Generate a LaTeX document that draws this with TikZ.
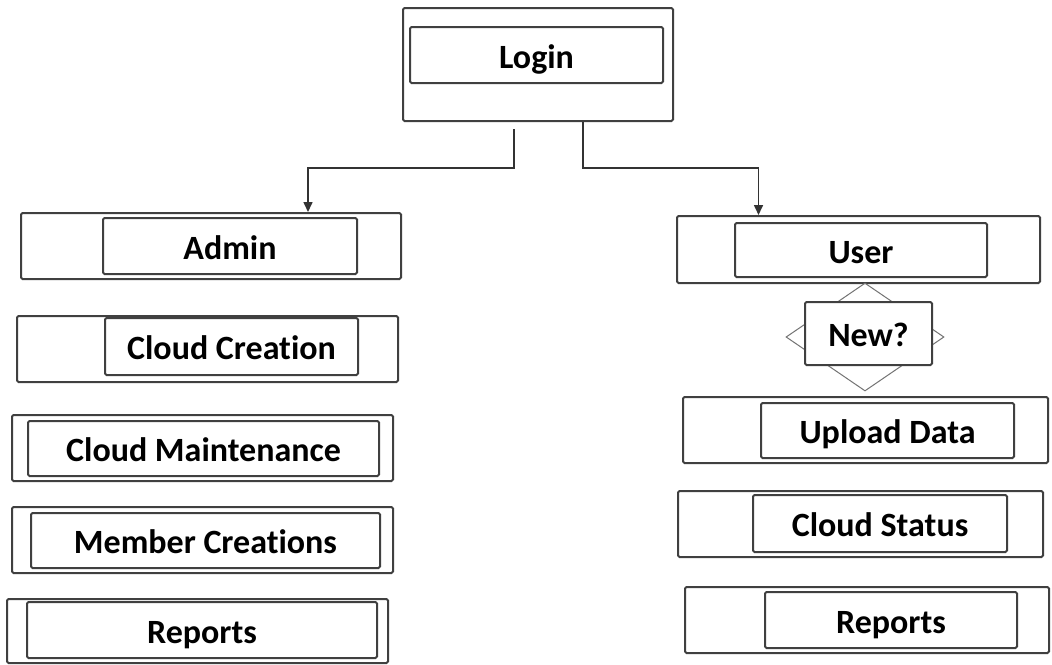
\documentclass[tikz,border=0pt]{standalone}
\usepackage{fontspec}
\setmainfont{Carlito}[Ligatures=NoCommon]
\usetikzlibrary{shapes.geometric,arrows.meta}
\begin{document}
\begin{tikzpicture}[x=1pt,y=-1pt,
  outerbox/.style={draw=black!75,line width=2pt,rounded corners=1.5pt,inner sep=0pt},
  innerbox/.style={draw=black!75,line width=2pt,rounded corners=1.5pt,inner sep=0pt,
    font=\fontsize{34}{40}\selectfont\bfseries,fill=white,text height=26pt,text depth=0pt},
  decision/.style={diamond,draw=black!55,line width=1pt,inner sep=0pt},
  link/.style={draw=black!80,line width=1.6pt,-{Triangle[length=10pt,width=9pt]}}]
\useasboundingbox (0,0) rectangle (1052,664);
\fill[white] (0,0) rectangle (1052,664);
% top
\node [outerbox,minimum width=270pt,minimum height=113pt] (login) at (538,64.5) {};
\node [innerbox,minimum width=253pt,minimum height=56pt] (logintxt) at (536.5,55) {Login};
% admin side
\node [outerbox,minimum width=380pt,minimum height=66pt] (admin) at (211,246) {};
\node [innerbox,minimum width=254pt,minimum height=56pt] (admintxt) at (230,246) {Admin};
\node [outerbox,minimum width=381pt,minimum height=66pt] (ccreate) at (207.5,349) {};
\node [innerbox,minimum width=253pt,minimum height=57pt] (ccreatetxt) at (231.5,346.5) {Cloud Creation};
\node [outerbox,minimum width=381pt,minimum height=66pt] (cmaint) at (202.5,448) {};
\node [innerbox,minimum width=351pt,minimum height=55pt] (cmainttxt) at (203.5,448.5) {Cloud Maintenance};
\node [outerbox,minimum width=381pt,minimum height=66pt] (member) at (202.5,540) {};
\node [innerbox,minimum width=349pt,minimum height=55pt] (membertxt) at (205.5,540.5) {Member Creations};
\node [outerbox,minimum width=381pt,minimum height=64pt] (areports) at (197.5,631) {};
\node [innerbox,minimum width=350pt,minimum height=56pt] (areportstxt) at (202,630) {Reports};
% user side
\node [outerbox,minimum width=363pt,minimum height=67pt] (user) at (858.5,249.5) {};
\node [innerbox,minimum width=252pt,minimum height=54pt] (usertxt) at (861,250) {User};
\node [decision,minimum width=158pt,minimum height=108pt] (new) at (865,337) {};
\node [innerbox,minimum width=127pt,minimum height=63pt] (newtxt) at (868.5,333.5) {New?};
\node [outerbox,minimum width=365pt,minimum height=66pt] (upload) at (865.5,430) {};
\node [innerbox,minimum width=253pt,minimum height=55pt] (uploadtxt) at (887.5,430.5) {Upload Data};
\node [outerbox,minimum width=365pt,minimum height=66pt] (cstatus) at (860.5,524) {};
\node [innerbox,minimum width=254pt,minimum height=57pt] (cstatustxt) at (880,523.5) {Cloud Status};
\node [outerbox,minimum width=364pt,minimum height=66pt] (ureports) at (867,620) {};
\node [innerbox,minimum width=252pt,minimum height=56pt] (ureportstxt) at (891,620) {Reports};
% connectors
\draw [link] ([xshift=-24pt,yshift=-7pt]login.south) -- ++(0,39) -| ([xshift=97pt]admin.north);
\draw [link] ([xshift=45pt]login.south) -- ++(0,46) -| ([xshift=-100pt]user.north);
\end{tikzpicture}
\end{document}
